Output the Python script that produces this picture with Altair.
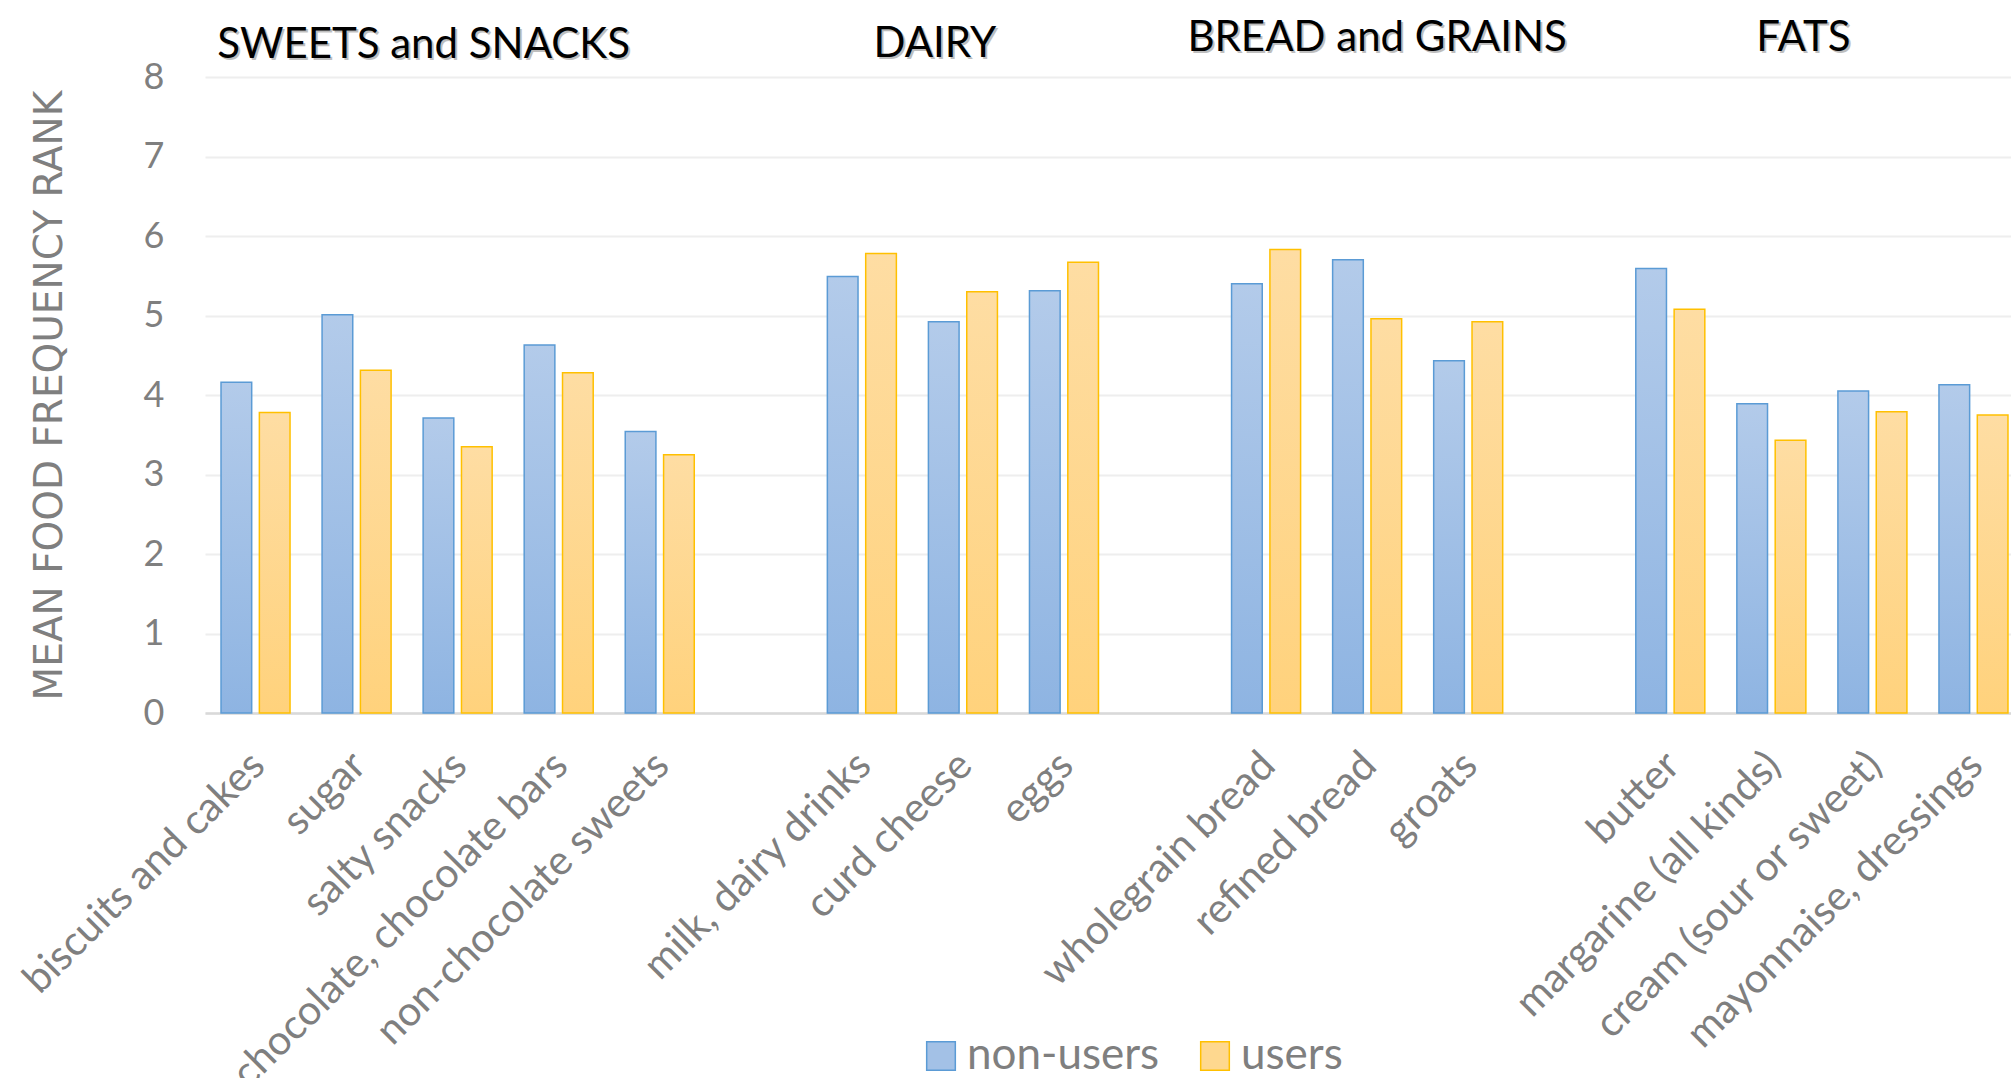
import altair as alt
import pandas as pd

# ---------------- data ----------------
categories = [
    "biscuits and cakes", "sugar", "salty snacks", "chocolate, chocolate bars", "non-chocolate sweets",
    "milk, dairy drinks", "curd cheese", "eggs",
    "wholegrain bread", "refined bread", "groats",
    "butter", "margarine (all kinds)", "cream (sour or sweet)", "mayonnaise, dressings",
]
non_users = [4.16, 5.01, 3.71, 4.63, 3.54, 5.49, 4.92, 5.31, 5.40, 5.70, 4.43, 5.59, 3.89, 4.05, 4.13]
users = [3.78, 4.31, 3.35, 4.28, 3.25, 5.78, 5.30, 5.67, 5.83, 4.96, 4.92, 5.08, 3.43, 3.79, 3.75]
groups = ["SWEETS and SNACKS", "DAIRY", "BREAD and GRAINS", "FATS"]
group_sizes = [5, 3, 3, 4]
series = ["non-users", "users"]
y_ticks = [0, 1, 2, 3, 4, 5, 6, 7, 8]

# x domain with an empty slot between groups
x_domain = []
i = 0
for g, n in enumerate(group_sizes):
    x_domain += categories[i:i + n]
    i += n
    if g < len(group_sizes) - 1:
        x_domain.append("__gap%d" % g)

rows = []
for c, a, b in zip(categories, non_users, users):
    rows.append({"item": c, "series": series[0], "value": a})
    rows.append({"item": c, "series": series[1], "value": b})
df = pd.DataFrame(rows)

# ---------------- style ----------------
W, H = 1806, 636
PAD = {"left": 205, "top": 77, "right": 0, "bottom": 365}
FONT = "Lato"
GRAY = "#7f7f7f"

x_enc = alt.X(
    "item:N",
    sort=x_domain,
    scale=alt.Scale(domain=x_domain, range=[0, 1819], paddingInner=0.317, paddingOuter=0.1585),
    axis=alt.Axis(
        title=None, labelAngle=-45, labelAlign="right", labelBaseline="middle",
        labelFont=FONT, labelFontSize=41, labelColor=GRAY, labelPadding=46, labelOffset=3,
        labelOverlap=False, labelLimit=800, labelBound=False, labelFlush=False,
        ticks=False, domain=True, domainColor="#d9d9d9", domainWidth=2.5, grid=False,
        labelExpr="indexof(datum.value, '__gap') == 0 ? '' : datum.value",
    ),
)
y_enc = alt.Y(
    "value:Q",
    scale=alt.Scale(domain=[0, 8], nice=False),
    axis=alt.Axis(
        title="MEAN FOOD FREQUENCY RANK", values=y_ticks, format="d",
        labelFont=FONT, labelFontSize=36, labelColor=GRAY, labelPadding=41,
        ticks=False, domain=False, grid=True, gridColor="#eeeeee", gridWidth=2,
        titleFont="DejaVu Sans", titleFontSize=39, titleFontWeight="normal", titleColor=GRAY,
        titleX=-156, titleY=318, titleAngle=-90, titleAlign="center", titleBaseline="middle",
    ),
)
xoff = alt.XOffset("series:N", scale=alt.Scale(domain=series, paddingInner=0.2, paddingOuter=0))

grad_blue = alt.LinearGradient(
    gradient="linear", x1=0, x2=0, y1=0, y2=1,
    stops=[alt.GradientStop(color="#b3cbea", offset=0), alt.GradientStop(color="#8eb4e2", offset=1)],
)
grad_yellow = alt.LinearGradient(
    gradient="linear", x1=0, x2=0, y1=0, y2=1,
    stops=[alt.GradientStop(color="#fedda3", offset=0), alt.GradientStop(color="#ffd27c", offset=1)],
)

base = alt.Chart(df)
bars_blue = base.transform_filter(alt.datum.series == series[0]).mark_bar(
    fill=grad_blue, stroke="#5b9bd5", strokeWidth=1.5
).encode(x=x_enc, y=y_enc, xOffset=xoff)
bars_yellow = base.transform_filter(alt.datum.series == series[1]).mark_bar(
    fill=grad_yellow, stroke="#ffc000", strokeWidth=1.5
).encode(x=x_enc, y=y_enc, xOffset=xoff)

# legend only (no marks drawn)
legend_layer = base.transform_filter("false").mark_bar().encode(
    color=alt.Color(
        "series:N",
        scale=alt.Scale(domain=series, range=["#a3c1e6", "#fed88f"]),
        legend=alt.Legend(
            orient="none", legendX=714, legendY=957, direction="horizontal", title=None,
            symbolType="square", symbolSize=820, symbolStrokeWidth=1.5,
            labelFont=FONT, labelFontSize=44, labelColor=GRAY, labelOffset=4,
            columnPadding=33, padding=0, labelLimit=600,
        ),
    ),
    stroke=alt.Stroke("series:N", scale=alt.Scale(domain=series, range=["#5b9bd5", "#ffc000"]), legend=None),
)

# group titles
title_anchor = ["salty snacks", "milk, dairy drinks", "refined bread", "margarine (all kinds)"]
title_dx = [-34, 73, 10, 32]
title_y = [-32, -33, -39, -39]
title_layers = []
for g, a, dx, ty in zip(groups, title_anchor, title_dx, title_y):
    tdf = pd.DataFrame({"item": [a], "label": [g]})
    tb = alt.Chart(tdf)
    shadow = tb.mark_text(
        font=FONT, fontSize=42, color="#000000", opacity=0.25, baseline="middle", align="center",
        dx=dx + 2, dy=2,
    ).encode(x=alt.X("item:N", sort=x_domain), y=alt.value(ty), text="label:N")
    txt = tb.mark_text(
        font=FONT, fontSize=42, color="#000000", baseline="middle", align="center", dx=dx,
    ).encode(x=alt.X("item:N", sort=x_domain), y=alt.value(ty), text="label:N")
    title_layers += [shadow, txt]

chart = alt.layer(bars_blue, bars_yellow, legend_layer, *title_layers).properties(
    width=W, height=H, padding=PAD, autosize=alt.AutoSizeParams(type="none"), background="white"
).configure_view(stroke=None)

chart.save("out.html", embed_options={"renderer": "svg", "actions": False})
